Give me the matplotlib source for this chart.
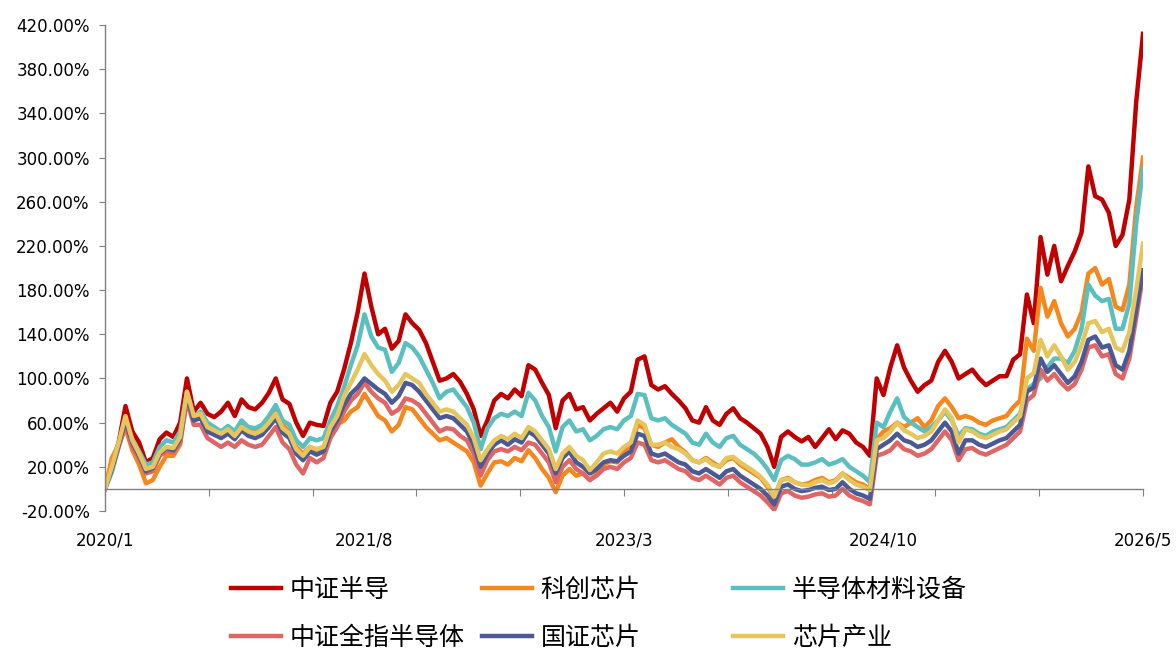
import matplotlib
matplotlib.use('Agg')
import matplotlib.pyplot as plt
import numpy as np
from matplotlib.ticker import FuncFormatter

plt.rcParams['font.family'] = ['DejaVu Sans', 'Noto Sans CJK SC']
plt.rcParams['axes.unicode_minus'] = False

# half-month steps from 2020/1 to 2026/5
months = np.arange(0, 76.5, 0.5)
date_pos = [0, 19, 38, 57, 76]
date_labels = ['2020/1', '2021/8', '2023/3', '2024/10', '2026/5']

names = ['中证半导', '科创芯片', '半导体材料设备', '中证全指半导体', '国证芯片', '芯片产业']
colors = ['#C00000', '#F5871F', '#5BBFC0', '#E06666', '#4B5A94', '#E5C55C']

# cumulative return, %
zz_bandao = [0, 22, 42, 75, 52, 42, 24, 28, 45, 51,
             47, 60, 100, 70, 78, 68, 65, 70, 78, 66,
             81, 74, 72, 78, 87, 100, 81, 77, 60, 48,
             60, 58, 57, 78, 88, 108, 132, 160, 195, 165,
             140, 145, 127, 134, 158, 150, 144, 132, 115, 98,
             100, 104, 97, 86, 72, 48, 62, 80, 86, 82,
             90, 84, 112, 108, 96, 85, 55, 80, 86, 72,
             74, 62, 68, 73, 78, 70, 82, 88, 117, 120,
             94, 90, 93, 86, 80, 73, 62, 60, 74, 62,
             58, 68, 73, 64, 60, 55, 50, 38, 20, 47,
             52, 47, 43, 47, 38, 46, 54, 45, 53, 50,
             42, 38, 30, 100, 85, 110, 130, 110, 98, 88,
             94, 98, 115, 125, 115, 100, 104, 108, 100, 94,
             98, 102, 102, 117, 122, 176, 150, 228, 194, 220,
             188, 202, 215, 232, 292, 265, 262, 250, 220, 230,
             262, 350, 412]

kc_xinpian = [0, 28, 40, 55, 35, 22, 5, 8, 20, 30,
              30, 40, 85, 62, 68, 58, 55, 50, 55, 48,
              60, 55, 54, 58, 65, 72, 58, 52, 38, 32,
              38, 34, 36, 52, 58, 62, 70, 74, 86, 76,
              66, 62, 52, 58, 74, 72, 64, 56, 50, 44,
              46, 42, 38, 34, 24, 3, 14, 24, 25, 22,
              28, 25, 35, 28, 18, 10, -3, 12, 18, 12,
              14, 8, 14, 22, 25, 24, 34, 40, 58, 55,
              40, 38, 42, 45, 38, 33, 26, 24, 28, 24,
              20, 26, 28, 22, 18, 14, 10, 2, -8, 8,
              10, 6, 4, 5, 8, 10, 6, 8, 14, 10,
              6, 4, 0, 45, 52, 55, 60, 56, 60, 64,
              56, 62, 75, 82, 74, 64, 66, 64, 60, 58,
              62, 64, 66, 74, 80, 136, 125, 182, 156, 170,
              150, 138, 145, 160, 195, 200, 185, 190, 165, 162,
              185, 255, 300]

cailiao_shebei = [0, 15, 38, 62, 45, 34, 22, 24, 38, 44,
                  42, 52, 88, 65, 70, 60, 56, 52, 57, 52,
                  62, 56, 55, 58, 66, 76, 62, 58, 44, 38,
                  46, 44, 46, 62, 75, 92, 112, 130, 158, 138,
                  128, 126, 106, 114, 132, 128, 120, 108, 96, 82,
                  88, 90, 82, 74, 60, 36, 55, 64, 68, 66,
                  70, 66, 87, 80, 66, 56, 34, 56, 62, 52,
                  54, 44, 48, 54, 56, 54, 62, 66, 86, 85,
                  64, 62, 64, 58, 54, 50, 42, 40, 50, 42,
                  38, 46, 48, 40, 36, 32, 26, 18, 8, 26,
                  30, 27, 22, 22, 24, 27, 22, 24, 27, 20,
                  16, 12, 6, 60, 56, 70, 82, 65, 60, 56,
                  52, 56, 62, 70, 62, 48, 55, 54, 50, 48,
                  52, 54, 56, 62, 68, 90, 95, 100, 110, 118,
                  118, 114, 125, 145, 185, 175, 170, 172, 145, 145,
                  168, 240, 290]

quanzhi_bandao = [0, 18, 38, 58, 38, 28, 14, 16, 30, 34,
                  33, 42, 80, 58, 58, 46, 42, 38, 42, 38,
                  44, 40, 38, 40, 48, 56, 42, 36, 22, 14,
                  28, 24, 28, 46, 56, 70, 80, 86, 96, 88,
                  82, 78, 68, 72, 82, 80, 76, 68, 60, 52,
                  55, 54, 48, 44, 32, 12, 26, 34, 36, 34,
                  38, 35, 42, 40, 32, 24, 6, 20, 26, 18,
                  14, 8, 12, 18, 20, 18, 24, 28, 42, 40,
                  26, 24, 26, 22, 18, 16, 10, 8, 12, 8,
                  4, 10, 12, 6, 2, -2, -6, -12, -19, -4,
                  -2, -6, -8, -7, -5, -4, -7, -6, 0, -6,
                  -9, -11, -14, 30, 32, 35, 42, 36, 34, 30,
                  32, 36, 44, 52, 44, 26, 36, 37, 33, 31,
                  34, 37, 40, 46, 52, 80, 85, 108, 98, 104,
                  96, 90, 95, 108, 128, 130, 120, 122, 104, 100,
                  118, 155, 193]

gz_xinpian = [0, 18, 40, 62, 42, 30, 16, 19, 32, 37,
              35, 45, 85, 62, 64, 52, 49, 46, 50, 45,
              53, 48, 46, 49, 56, 64, 51, 46, 32, 26,
              34, 31, 34, 52, 62, 76, 86, 92, 100, 95,
              90, 86, 78, 84, 96, 94, 88, 80, 72, 64,
              66, 64, 58, 52, 40, 20, 32, 40, 44, 40,
              45, 42, 52, 48, 40, 32, 14, 28, 34, 24,
              20, 14, 18, 24, 26, 25, 30, 34, 50, 48,
              32, 30, 32, 28, 24, 22, 16, 14, 18, 14,
              10, 16, 18, 12, 8, 4, 0, -6, -14, 2,
              4, 0, -2, -1, 1, 2, -1, 0, 6, 0,
              -4, -6, -9, 36, 40, 44, 50, 44, 42, 38,
              40, 44, 52, 60, 52, 32, 44, 44, 40, 38,
              41, 44, 46, 52, 58, 88, 92, 118, 106, 112,
              104, 96, 102, 115, 135, 138, 128, 130, 112, 108,
              125, 162, 198]

xinpian_chanye = [0, 20, 42, 66, 44, 32, 18, 20, 33, 38,
                  37, 47, 88, 66, 68, 56, 53, 50, 54, 48,
                  56, 52, 50, 53, 60, 68, 55, 50, 36, 30,
                  38, 36, 38, 56, 66, 84, 96, 108, 122, 112,
                  104, 98, 88, 94, 104, 100, 96, 86, 78, 70,
                  72, 70, 64, 58, 46, 26, 36, 44, 48, 45,
                  50, 46, 56, 52, 44, 36, 18, 32, 38, 30,
                  26, 17, 24, 32, 34, 32, 38, 42, 62, 58,
                  40, 40, 42, 38, 36, 32, 26, 24, 27, 22,
                  20, 28, 29, 24, 20, 16, 11, 4, -7, 8,
                  9, 6, 4, 3, 6, 8, 5, 7, 14, 8,
                  4, 2, -1, 44, 46, 52, 60, 53, 50, 46,
                  48, 52, 62, 72, 64, 42, 54, 52, 48, 46,
                  49, 52, 54, 60, 66, 100, 105, 135, 120, 130,
                  120, 108, 115, 130, 150, 152, 142, 145, 128, 125,
                  142, 180, 222]

series = [zz_bandao, kc_xinpian, cailiao_shebei, quanzhi_bandao, gz_xinpian, xinpian_chanye]

W, H = 1176, 664
fig = plt.figure(figsize=(W / 100, H / 100), dpi=100)
ax = fig.add_axes([105 / W, 1 - 511 / H, (1143 - 105) / W, (511 - 25) / H])

lines = []
for vals, name, col in zip(series, names, colors):
    ln, = ax.plot(months, vals, color=col, lw=3.2, label=name, solid_joinstyle='round')
    lines.append(ln)

ax.set_xlim(0, 76)
ax.set_ylim(-20, 420)
for s in ['top', 'right']:
    ax.spines[s].set_visible(False)
ax.spines['bottom'].set_position(('data', 0))
for s in ['left', 'bottom']:
    ax.spines[s].set_color('#808080')
    ax.spines[s].set_linewidth(1.0)

ax.set_yticks(np.arange(-20, 421, 40))
ax.yaxis.set_major_formatter(FuncFormatter(lambda v, p: '%.2f%%' % v))
ax.tick_params(axis='y', direction='out', length=4, color='#808080', labelsize=12, pad=7)
ax.set_xticks(np.linspace(0, 76, 11))
ax.set_xticklabels([])
ax.tick_params(axis='x', direction='out', length=5, color='#808080')

sec = ax.secondary_xaxis(0)
sec.set_xticks(date_pos, labels=date_labels)
sec.spines['bottom'].set_visible(False)
sec.tick_params(length=0, pad=15, labelsize=12)

# three legend columns, equal spacing like the original
cols = [[0, 3], [1, 4], [2, 5]]
xs = [231, 482, 733]
for idx, x0 in zip(cols, xs):
    fig.legend(handles=[lines[i] for i in idx], loc='upper left',
               bbox_to_anchor=(x0 / W, 1 - 578 / H), frameon=False,
               fontsize=18, handlelength=2.0, handletextpad=0.35,
               labelspacing=0.95, borderpad=0, borderaxespad=0)

fig.savefig('out.png', dpi=100)
